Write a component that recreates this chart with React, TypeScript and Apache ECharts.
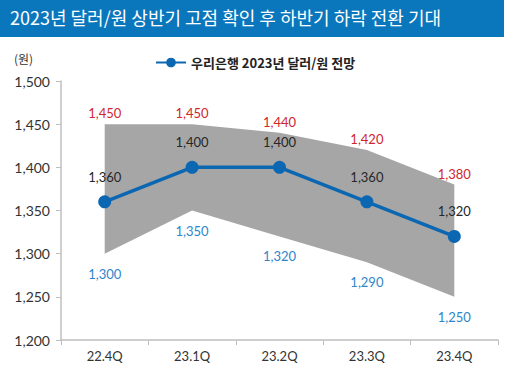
import React, { useEffect, useRef } from "react";
import * as echarts from "echarts";

const categories = ["22.4Q", "23.1Q", "23.2Q", "23.3Q", "23.4Q"];
const forecast = [1360, 1400, 1400, 1360, 1320];
const high = [1450, 1450, 1440, 1420, 1380];
const low = [1300, 1350, 1320, 1290, 1250];
const yTicks = [1200, 1250, 1300, 1350, 1400, 1450, 1500];

const titleText = "2023년 달러/원 상반기 고점 확인 후 하반기 하락 전환 기대";
const legendName = "우리은행 2023년 달러/원 전망";

const fmt = (v: number) => v.toLocaleString("en-US");
const numFont = "Lato, 'Noto Sans CJK KR', sans-serif";
const krFont = "'Noto Sans CJK KR', 'Noto Sans', sans-serif";

export default function App() {
  const ref = useRef<HTMLDivElement>(null);
  useEffect(() => {
    if (!ref.current) return;
    const chart = echarts.init(ref.current, null, { renderer: "svg" });
    const band = high.map((h, i) => h - low[i]);
    chart.setOption({
      animation: false,
      backgroundColor: "#ffffff",
      graphic: [
        { type: "rect", left: 0, top: 0, shape: { width: 504, height: 37 }, style: { fill: "#0a77bd" }, silent: true },
        {
          type: "text", left: 10, top: 8,
          style: { text: titleText, fill: "#ffffff", fontSize: 18, fontFamily: krFont },
        },
        {
          type: "text", left: 14, top: 52,
          style: { text: "(원)", fill: "#333333", fontSize: 12, fontFamily: krFont },
        },
      ],
      legend: {
        left: 150, top: 51,
        itemWidth: 30, itemHeight: 12,
        textStyle: { fontSize: 13, fontWeight: "bold", color: "#222", fontFamily: krFont },
        data: [{ name: legendName }],
      },
      grid: { left: 61, right: 9, top: 81, bottom: 30 },
      xAxis: {
        type: "category",
        data: categories,
        boundaryGap: true,
        axisLine: { lineStyle: { color: "#bfbfbf", width: 1.5 } },
        axisTick: { show: true, length: 5, lineStyle: { color: "#bfbfbf" } },
        axisLabel: { color: "#333", fontSize: 13, margin: 9, fontFamily: numFont },
      },
      yAxis: {
        type: "value",
        min: 1200, max: 1500, interval: 50,
        axisLine: { show: true, lineStyle: { color: "#bfbfbf", width: 1.5 } },
        axisTick: { show: true, length: 5, lineStyle: { color: "#bfbfbf" } },
        splitLine: { show: false },
        axisLabel: {
          color: "#333", fontSize: 14, margin: 11, fontFamily: numFont,
          formatter: (v: number) => (yTicks.includes(v) ? fmt(v) : ""),
        },
      },
      series: [
        {
          name: "low",
          type: "line",
          stack: "range",
          data: low,
          symbol: "circle",
          symbolSize: 1,
          showSymbol: true,
          itemStyle: { color: "rgba(0,0,0,0)" },
          lineStyle: { opacity: 0 },
          label: {
            show: true, position: "bottom", distance: 13,
            color: "#2e86c9", fontSize: 13, fontFamily: numFont,
            formatter: (p: any) => fmt(low[p.dataIndex]),
          },
          silent: true,
          z: 1,
        },
        {
          name: "band",
          type: "line",
          stack: "range",
          data: band,
          symbol: "circle",
          symbolSize: 1,
          showSymbol: true,
          itemStyle: { color: "rgba(0,0,0,0)" },
          lineStyle: { opacity: 0 },
          areaStyle: { color: "#a6a6a6", opacity: 1 },
          label: {
            show: true, position: "top", distance: 4,
            color: "#d2262c", fontSize: 13, fontFamily: numFont,
            formatter: (p: any) => fmt(high[p.dataIndex]),
          },
          silent: true,
          z: 1,
        },
        {
          name: legendName,
          type: "line",
          data: forecast,
          symbol: "circle",
          symbolSize: 13,
          itemStyle: { color: "#0b67b2" },
          lineStyle: { color: "#0b67b2", width: 3.5 },
          label: {
            show: true, position: "top", distance: 12,
            color: "#262626", fontSize: 13, fontFamily: numFont,
            formatter: (p: any) => fmt(p.value),
          },
          z: 3,
        },
      ],
    });
    return () => chart.dispose();
  }, []);
  return <div ref={ref} style={{ width: 507, height: 370, position: "absolute", left: 0, top: 0 }} />;
}
